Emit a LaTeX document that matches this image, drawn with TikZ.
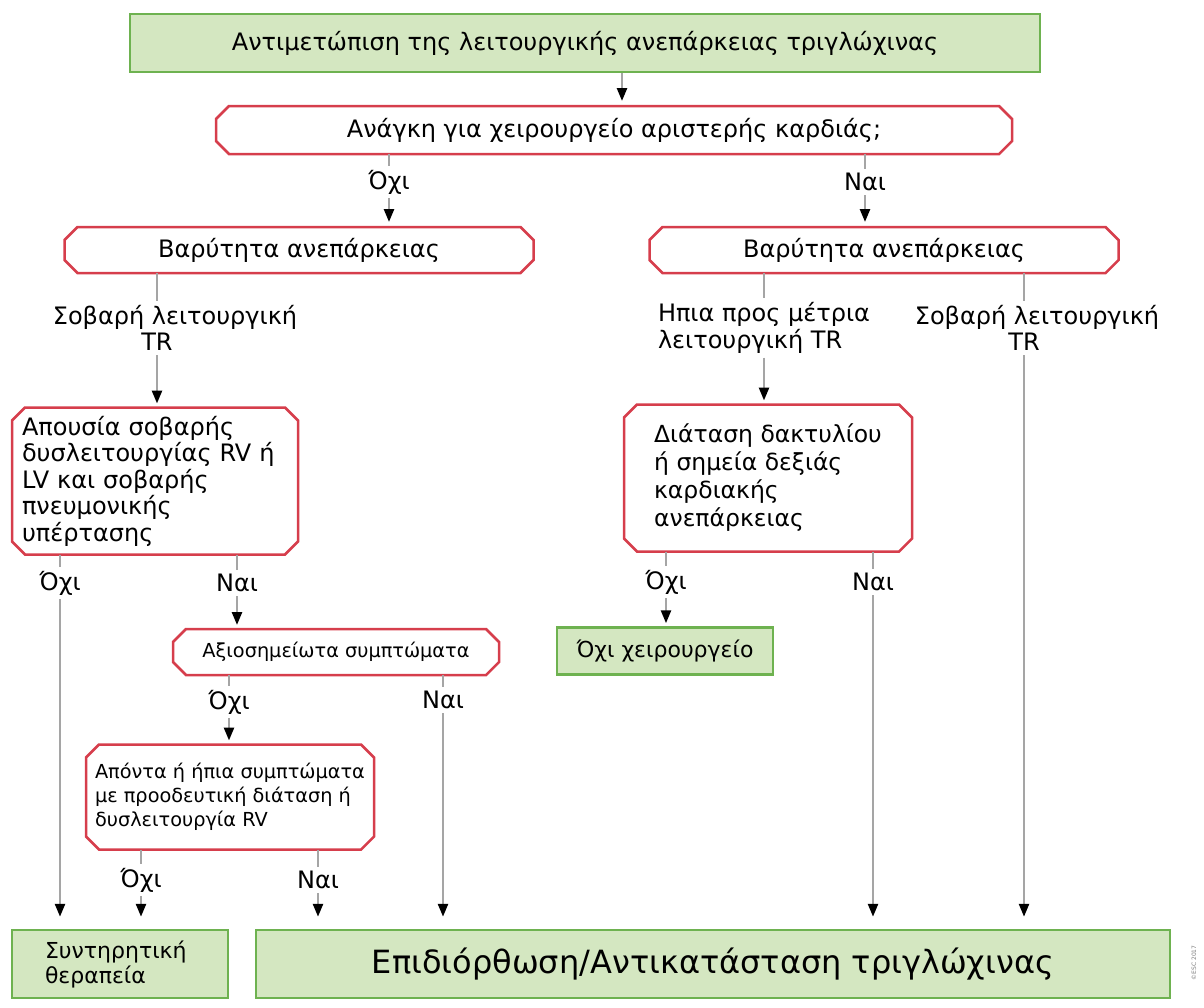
\documentclass[tikz,border=0pt]{standalone}
\usepackage{fontspec}
\setmainfont{DejaVu Sans}
\usetikzlibrary{arrows.meta}
\definecolor{boxgreen}{RGB}{212,231,193}
\definecolor{edgegreen}{RGB}{110,178,80}
\definecolor{edgered}{RGB}{214,62,76}
\definecolor{linegray}{RGB}{165,165,165}
\begin{document}
\begin{tikzpicture}[x=1pt, y=-1pt,
        every node/.style={font=\fontsize{24}{26.5}\selectfont},
        endbox/.style={draw=edgegreen, fill=boxgreen, line width=2.5pt, inner sep=0pt},
        askbox/.style={inner sep=0pt, outer sep=0pt},
        ans/.style={inner xsep=2pt, inner ysep=4pt},
        stub/.style={draw=linegray, line width=2.5pt},
        arr/.style={stub, -{Triangle[length=13pt, width=10pt, color=black]}}]
    \useasboundingbox (0,0) rectangle (1204,1007);

    \node[endbox, minimum width=910pt, minimum height=58pt] (top) at (585,43)
        {Αντιμετώπιση της λειτουργικής ανεπάρκειας τριγλώχινας};
    \node[askbox, minimum width=796pt, minimum height=48pt] (q1) at (614,130)
        {Ανάγκη για χειρουργείο αριστερής καρδιάς;};
    \node[askbox, minimum width=469pt, minimum height=46pt] (sevL) at (299,250) {Βαρύτητα ανεπάρκειας};
    \node[askbox, minimum width=469pt, minimum height=46pt] (sevR) at (884,250) {Βαρύτητα ανεπάρκειας};

    \node[ans, align=center] (trL) at (157,328) {\hspace*{36pt}Σοβαρή λειτουργική\\TR};
    \node[ans, align=left] (mildR) at (764,328) {Ηπια προς μέτρια\\λειτουργική TR};
    \node[ans, align=center] (trR) at (1024,328) {\hspace*{26pt}Σοβαρή λειτουργική\\TR};

    \node[askbox, minimum width=286pt, minimum height=147pt, text width=266pt, align=left] (absL) at (155,481)
        {Απουσία σοβαρής\\δυσλειτουργίας RV ή\\LV και σοβαρής\\πνευμονικής\\υπέρτασης};
    \node[askbox, minimum width=288pt, minimum height=147pt, align=left,
        font=\fontsize{23.5}{28}\selectfont] (dilR) at (768,478)
        {Διάταση δακτυλίου\\ή σημεία δεξιάς\\καρδιακής\\ανεπάρκειας};
    \node[askbox, minimum width=326pt, minimum height=46pt, font=\fontsize{19.3}{23}\selectfont] (sym) at (336,652)
        {Αξιοσημείωτα συμπτώματα};
    \node[askbox, minimum width=288pt, minimum height=105pt, align=left,
        font=\fontsize{19.3}{24}\selectfont] (abs2) at (230,797)
        {Απόντα ή ήπια συμπτώματα\\με προοδευτική διάταση ή\\δυσλειτουργία RV};

    \foreach \b in {q1, sevL, sevR, absL, dilR, sym, abs2} {
        \draw[edgered, line width=2.5pt] ([xshift=13pt]\b.north west) -- ([xshift=-13pt]\b.north east)
            -- ([yshift=-13pt]\b.north east) -- ([yshift=13pt]\b.south east) -- ([xshift=-13pt]\b.south east)
            -- ([xshift=13pt]\b.south west) -- ([yshift=13pt]\b.south west) -- ([yshift=-13pt]\b.north west) -- cycle;
    }

    \node[endbox, minimum width=216pt, minimum height=47pt, font=\fontsize{22}{26}\selectfont] (nosurg) at (665,651)
        {Όχι χειρουργείο};
    \node[endbox, minimum width=216pt, minimum height=68pt, text width=150pt, align=left,
        font=\fontsize{22}{25}\selectfont] (cons) at (120,964) {Συντηρητική\\θεραπεία};
    \node[endbox, minimum width=914pt, minimum height=68pt, font=\fontsize{32}{38}\selectfont] (fix) at (713,964)
        {Επιδιόρθωση/Αντικατάσταση τριγλώχινας};

    \foreach \n/\t/\x/\y in {
        no1/Όχι/389/182, yes1/Ναι/865/182, noA/Όχι/60/583, yesA/Ναι/237/583,
        noD/Όχι/666/582, yesD/Ναι/873/582, noS/Όχι/229/702, yesS/Ναι/443/700,
        noB/Όχι/141/880, yesB/Ναι/318/880
    } {
        \node[ans] (\n) at (\x,\y) {\t};
    }

    \draw[arr, shorten >=5pt] ([xshift=37pt]top.south) -- ([xshift=8pt]q1.north);
    \foreach \src/\lab/\dst/\gap in {
        q1/no1/sevL/5, q1/yes1/sevR/5, sevL/trL/absL/4, sevR/mildR/dilR/4,
        absL/yesA/sym/4, sym/noS/abs2/4, dilR/noD/nosurg/3, abs2/noB/cons/12,
        abs2/yesB/fix/12, absL/noA/cons/12, dilR/yesD/fix/12, sym/yesS/fix/12, sevR/trR/fix/12
    } {
        \draw[stub] (\src.south -| \lab) -- (\lab);
        \draw[arr, shorten >=\gap pt] (\lab) -- (\lab |- \dst.north);
    }

    \node[font=\fontsize{6}{7}\selectfont, text=gray, rotate=90] (esc) at (1194,963) {©ESC 2017};
\end{tikzpicture}
\end{document}
